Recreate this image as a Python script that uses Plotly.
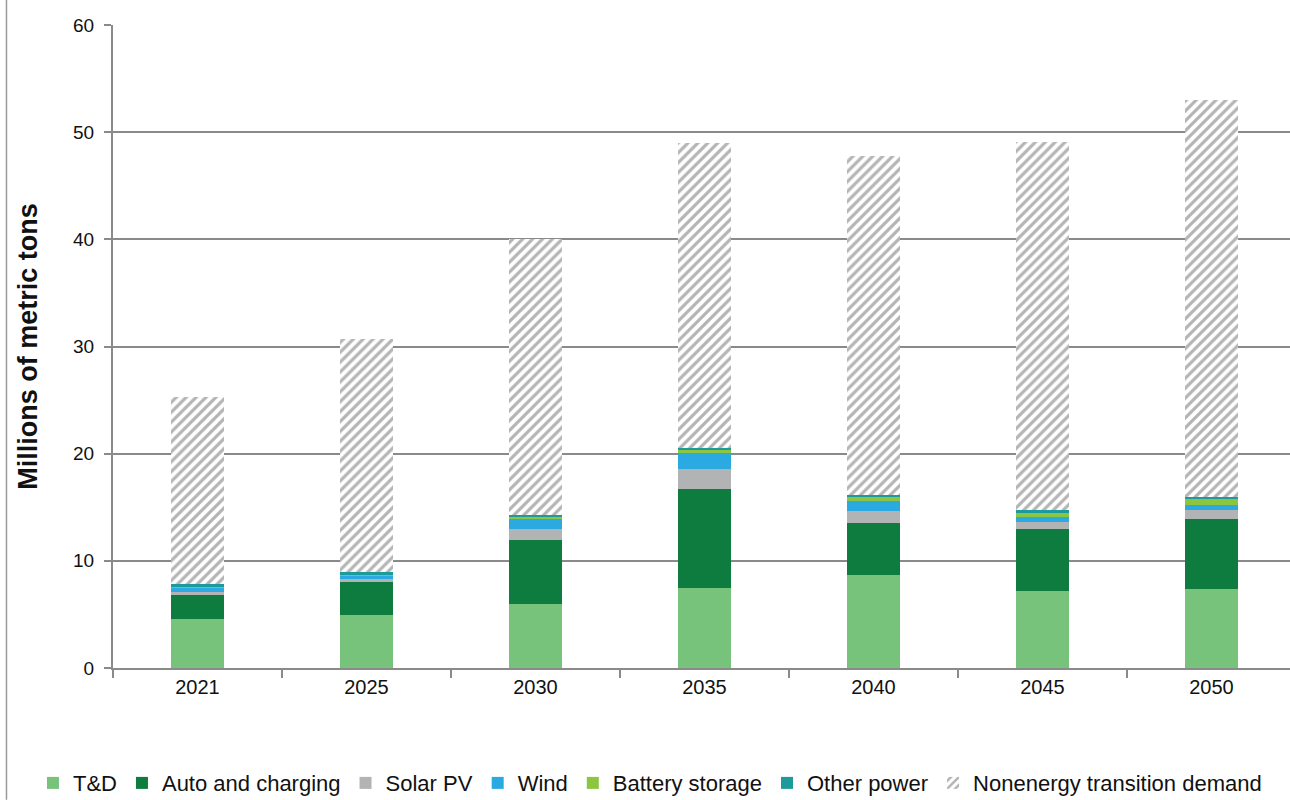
import plotly.graph_objects as go

years = ["2021", "2025", "2030", "2035", "2040", "2045", "2050"]

td = [4.6, 4.9, 5.95, 7.45, 8.7, 7.2, 7.4]
auto_charging = [2.2, 3.15, 6.0, 9.3, 4.85, 5.75, 6.5]
solar_pv = [0.25, 0.3, 1.05, 1.8, 1.1, 0.65, 0.85]
wind = [0.45, 0.3, 0.95, 1.55, 0.9, 0.45, 0.45]
battery = [0.05, 0.05, 0.2, 0.3, 0.45, 0.5, 0.6]
other_power = [0.3, 0.3, 0.15, 0.1, 0.1, 0.15, 0.15]
nonenergy = [17.45, 21.7, 25.7, 28.5, 31.7, 34.4, 37.05]

y_ticks = [0, 10, 20, 30, 40, 50, 60]

solid_series = [
    ("T&D", td, "#78c37b"),
    ("Auto and charging", auto_charging, "#0f7c3f"),
    ("Solar PV", solar_pv, "#b2b3b5"),
    ("Wind", wind, "#2aaae1"),
    ("Battery storage", battery, "#8cc640"),
    ("Other power", other_power, "#1d9a9b"),
]

fig = go.Figure()
for name, vals, color in solid_series:
    fig.add_trace(go.Bar(
        x=years, y=vals, name=name,
        marker=dict(color=color, line=dict(width=0)),
        width=0.31,
    ))

fig.add_trace(go.Bar(
    x=years, y=nonenergy, name="Nonenergy transition demand",
    marker=dict(
        color="white",
        line=dict(width=0),
        pattern=dict(shape="/", fgcolor="#b4b4b4", bgcolor="white",
                     size=7, solidity=0.45, fillmode="replace"),
    ),
    width=0.31,
))

sans = "Liberation Sans, Arial, sans-serif"

fig.update_layout(
    barmode="stack",
    width=1290, height=800,
    margin=dict(l=113, r=0, t=25, b=132, autoexpand=False),
    paper_bgcolor="white",
    plot_bgcolor="white",
    font=dict(family=sans, size=20, color="#111111"),
    showlegend=True,
    legend=dict(
        orientation="h",
        x=-0.068, xanchor="left",
        y=-0.179, yanchor="middle",
        font=dict(family=sans, size=22, color="#111111"),
        itemwidth=30,
        traceorder="normal",
        bgcolor="rgba(0,0,0,0)",
    ),
    xaxis=dict(
        type="category",
        range=[-0.5, 6.465],
        showline=True, linecolor="#8a8a8a", linewidth=2,
        ticks="outside", tickson="boundaries", ticklen=8,
        tickcolor="#8a8a8a", tickwidth=2,
        showgrid=False,
        tickfont=dict(family=sans, size=20, color="#111111"),
    ),
    yaxis=dict(
        range=[0, 60],
        tickvals=y_ticks,
        showline=True, linecolor="#8a8a8a", linewidth=2,
        ticks="outside", ticklen=7, tickcolor="#8a8a8a", tickwidth=2,
        ticklabelstandoff=6,
        showgrid=True, gridcolor="#8a8a8a", gridwidth=2,
        zeroline=False,
        tickfont=dict(family=sans, size=19, color="#111111"),
        title=dict(text="<b>Millions of metric tons</b>",
                   font=dict(family=sans, size=27, color="#111111"),
                   standoff=28),
    ),
)

# thin frame line along the left edge of the chart area
fig.add_shape(type="line", xref="paper", yref="paper",
              x0=-0.0905, x1=-0.0905, y0=-0.205, y1=1.04,
              line=dict(color="#9a9a9a", width=1.5))

fig.write_html("out.html")
